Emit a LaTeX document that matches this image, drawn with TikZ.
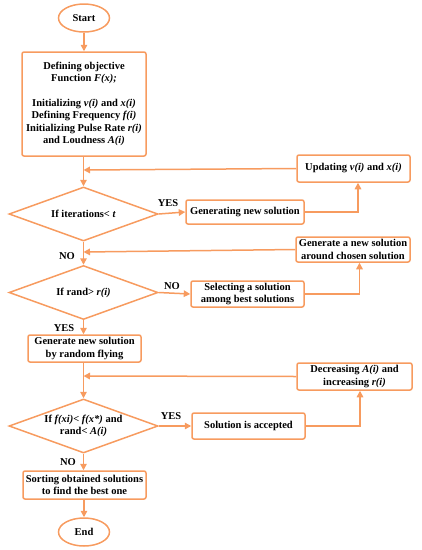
\documentclass[tikz,border=0pt]{standalone}
\usepackage{fontspec}
\setmainfont{Liberation Serif}
\usetikzlibrary{shapes.geometric,arrows.meta}
\definecolor{org}{RGB}{247,155,95}
\begin{document}
\begin{tikzpicture}[x=1pt,y=-1pt,
  every node/.style={font=\fontsize{10.5}{12.3}\selectfont\bfseries, text=black},
  box/.style={draw=org, line width=1.5pt, rounded corners=2pt, align=center, inner sep=0pt},
  term/.style={draw=org, line width=1.5pt, ellipse, minimum width=51, minimum height=28, inner sep=0pt},
  dec/.style={draw=org, line width=1.5pt, diamond, shape aspect=2.76, minimum width=149, minimum height=54, inner sep=0pt, align=center},
  lab/.style={inner sep=0pt},
  conn/.style={draw=org, line width=1.5pt, -{Triangle[length=6.5pt,width=6.5pt]}},
  line/.style={draw=org, line width=1.5pt}
]
\useasboundingbox (0,0) rectangle (422,550);
\node[term] (start) at (84,18) {Start};
\node[box, minimum width=124, minimum height=104] (init) at (84,104) {Defining objective\\Function \textit{F(x);}\\[12.3pt]Initializing \textit{v(i)} and \textit{x(i)}\\Defining Frequency \textit{f(i)}\\Initializing Pulse Rate \textit{r(i)}\\and Loudness \textit{A(i)}};
\node[box, minimum width=113, minimum height=27] (upd) at (353.5,168.5) {Updating \textit{v(i)} and \textit{x(i)}};
\node[dec] (d1) at (83.5,214) {If iterations\textless{} \textit{t}};
\node[box, minimum width=118, minimum height=24] (gen) at (245,212) {Generating new solution};
\node[box, minimum width=114, minimum height=25] (chosen) at (353,249.5) {Generate a new solution\\around chosen solution};
\node[dec] (d2) at (83.5,292.5) {If rand\textgreater{} \textit{r(i)}};
\node[box, minimum width=113, minimum height=26] (sel) at (247.5,294) {Selecting a solution\\among best solutions};
\node[box, minimum width=113, minimum height=27] (fly) at (84.5,348.5) {Generate new solution\\by random flying};
\node[box, minimum width=115, minimum height=27] (decr) at (354.5,376.5) {Decreasing \textit{A(i)} and\\increasing \textit{r(i)}};
\node[dec] (d3) at (83.5,426) {If \textit{f(xi)}\textless{} \textit{f(x*)} and\\rand\textless{} \textit{A(i)}};
\node[box, minimum width=113, minimum height=26] (acc) at (248.5,426) {Solution is accepted};
\node[box, minimum width=123, minimum height=28] (sort) at (84.5,485) {Sorting obtained solutions\\to find the best one};
\node[term] (end) at (84,532) {End};

\coordinate (j1) at (83.5,170);
\coordinate (j2) at (83.5,252);
\coordinate (j3) at (83.5,376);

\draw[conn] (start) -- (start|-init.north);
\draw[conn] (init.south-|d1.north) -- (d1.north);
\draw[conn] (upd.west) -- (j1);
\draw[conn] (d1.east) -- (gen.west);
\draw[conn] (gen.east) -| ([xshift=4.5pt]upd.south);
\draw[conn] (d1.south) -- (d2.north);
\draw[conn] (chosen.west) -- (j2);
\draw[conn] (d2.east) -- (sel.west);
\draw[conn] (sel.east) -| ([xshift=6.5pt]chosen.south);
\draw[conn] (d2.south) -- (d2.south|-fly.north);
\draw[conn] (fly.south-|d3.north) -- (d3.north);
\draw[conn] (decr.west) -- (j3);
\draw[conn] (d3.east) -- (acc.west);
\draw[conn] (acc.east) -| ([xshift=5.5pt]decr.south);
\draw[conn] (d3.south) -- (d3.south|-sort.north);
\draw[conn] (sort.south-|end.north) -- (end.north);

\node[lab] (yes1) at (168,203) {YES};
\node[lab] (no1) at (67,256) {NO};
\node[lab] (no2) at (172,286) {NO};
\node[lab] (yes2) at (64,328) {YES};
\node[lab] (yes3) at (171,416) {YES};
\node[lab] (no3) at (68,462) {NO};
\end{tikzpicture}
\end{document}
